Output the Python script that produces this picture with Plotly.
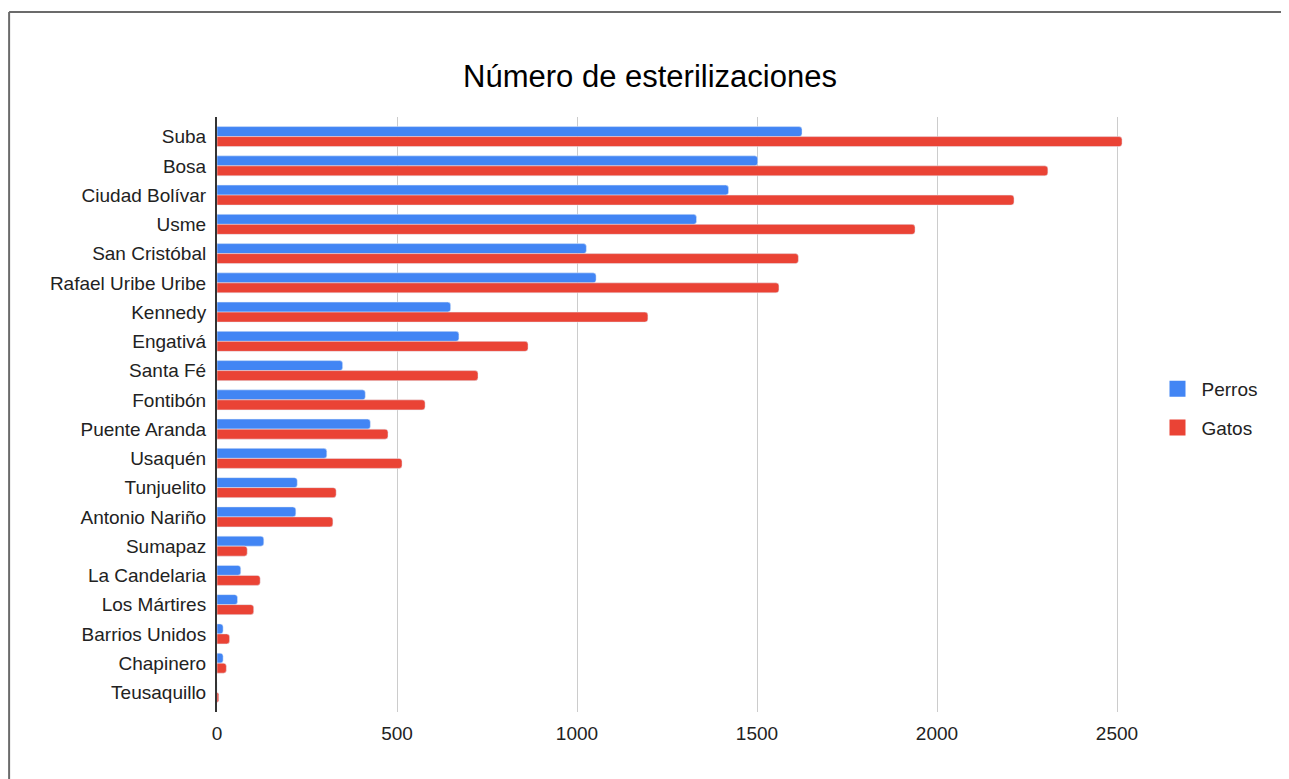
import plotly.graph_objects as go

categorias = ["Suba", "Bosa", "Ciudad Bolívar", "Usme", "San Cristóbal", "Rafael Uribe Uribe",
              "Kennedy", "Engativá", "Santa Fé", "Fontibón", "Puente Aranda", "Usaquén",
              "Tunjuelito", "Antonio Nariño", "Sumapaz", "La Candelaria", "Los Mártires",
              "Barrios Unidos", "Chapinero", "Teusaquillo"]
perros = [1625, 1502, 1421, 1332, 1026, 1053, 649, 672, 349, 412, 426, 305, 223, 219, 130, 66, 57, 17, 17, 0]
gatos = [2514, 2308, 2214, 1939, 1615, 1561, 1197, 864, 725, 578, 475, 514, 331, 322, 84, 120, 102, 35, 26, 5]
x_ticks = [0, 500, 1000, 1500, 2000, 2500]

AZUL = "#4285F4"
ROJO = "#EA4335"
FONT = "Arial, Liberation Sans, sans-serif"

# page has an 8px body margin; figure coordinates = reference - 8
W, H = 1281, 771
L, T = 209, 109
PR, PB = 1145.5, 704
R, B = W - PR, H - PB
pw = PR - L
ph = PB - T
PAD = 0.17  # category padding at both ends of the y axis
n = len(categorias)

fig = go.Figure()
fig.add_trace(go.Bar(y=categorias, x=perros, orientation="h", name="Perros",
                     marker_color=AZUL, showlegend=False))
fig.add_trace(go.Bar(y=categorias, x=gatos, orientation="h", name="Gatos",
                     marker_color=ROJO, showlegend=False))
# legend entries
fig.add_trace(go.Scatter(x=[None], y=[None], mode="markers", name="Perros", legendgroup="p",
                         marker=dict(symbol="square", size=16, color=AZUL)))
fig.add_trace(go.Scatter(x=[None], y=[None], mode="markers", name="Gatos", legendgroup="g",
                         marker=dict(symbol="square", size=16, color=ROJO)))

border_line = dict(color="#6b6b6b", width=2)
fig.update_layout(
    width=W, height=H,
    margin=dict(l=L, r=R, t=T, b=B, autoexpand=False),
    paper_bgcolor="white", plot_bgcolor="white",
    font=dict(family=FONT, size=19, color="#222222"),
    barmode="group", bargap=0.316, bargroupgap=0, barcornerradius=3,
    title=dict(text="Número de esterilizaciones", x=642 / W, xanchor="center",
               y=1 - 68 / H, yanchor="middle", xref="container", yref="container",
               font=dict(family=FONT, size=31, color="#000000")),
    legend=dict(x=(1146 - L) / pw, y=1 - (362 - T) / ph, xanchor="left", yanchor="top",
                font=dict(family=FONT, size=19, color="#222222"), itemwidth=38,
                tracegroupgap=11, bgcolor="rgba(0,0,0,0)"),
    xaxis=dict(range=[0, 2600], tickvals=x_ticks, showgrid=True, gridcolor="#cccccc",
               gridwidth=1, zeroline=False, showline=False, ticks="",
               ticklabelstandoff=8, tickfont=dict(size=19, color="#222222")),
    yaxis=dict(type="category", categoryorder="array", categoryarray=categorias,
               range=[n - 0.5 + PAD, -0.5 - PAD], showgrid=False, zeroline=False,
               showline=True, linecolor="#333333", linewidth=2, ticks="",
               ticklabelstandoff=5, tickfont=dict(size=19, color="#222222")),
    shapes=[
        dict(type="line", xref="paper", yref="paper",
             x0=(1 - L) / pw, x1=(1400 - L) / pw,
             y0=1 + (T - 4) / ph, y1=1 + (T - 4) / ph, line=border_line, layer="below"),
        dict(type="line", xref="paper", yref="paper",
             x0=(1 - L) / pw, x1=(1 - L) / pw,
             y0=1 + (T - 4) / ph, y1=1 - (900 - T) / ph, line=border_line, layer="below"),
    ],
)

fig.write_html("out.html")
